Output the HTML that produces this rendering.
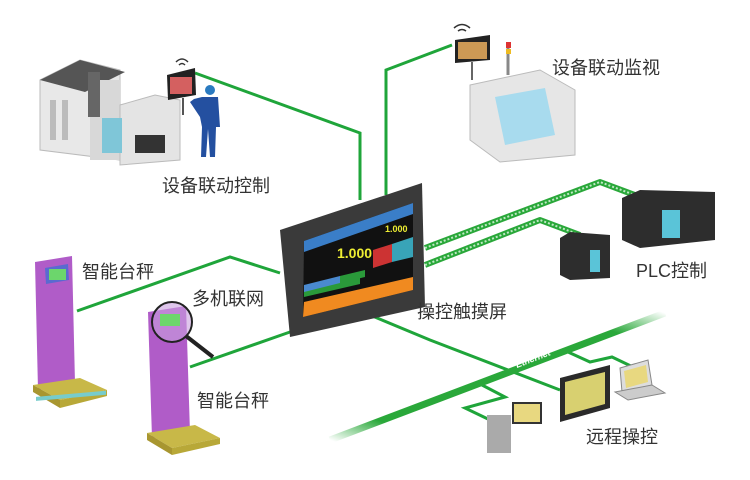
<!DOCTYPE html>
<html><head><meta charset="utf-8"><style>
html,body{margin:0;padding:0;background:#fff;}
svg{display:block}
text{font-family:"Liberation Sans","Noto Sans CJK SC",sans-serif;fill:#333;font-size:18px;}
</style></head><body>
<svg width="750" height="480" viewBox="0 0 750 480" xmlns="http://www.w3.org/2000/svg">
<defs>
<linearGradient id="eth" x1="0" y1="1" x2="1" y2="0">
<stop offset="0" stop-color="#2aa83a" stop-opacity="0"/>
<stop offset="0.15" stop-color="#2aa83a"/>
<stop offset="0.85" stop-color="#2aa83a"/>
<stop offset="1" stop-color="#2aa83a" stop-opacity="0"/>
</linearGradient>
</defs>
<rect width="750" height="480" fill="#fff"/>
<g stroke="#1fa53a" stroke-width="3" fill="none">
<polyline points="195,73 360,133 360,200"/>
<polyline points="386,195 386,70 452,45"/>
<polyline points="77,311 230,257 280,273"/>
<polyline points="190,367 290,332"/>
<polyline points="365,313 430,340 560,390"/>
<polyline points="482,385 505,397 465,408 490,420"/>
<polyline points="568,352 590,362 612,357 635,368"/>
</g>
<g stroke="#2aa83a" stroke-width="6" fill="none" stroke-linejoin="round">
<polyline points="425,248 600,182 640,197"/>
<polyline points="425,265 540,220 580,235"/>
</g>
<g stroke="#bfe8c4" stroke-width="2" stroke-dasharray="2 2" fill="none">
<polyline points="425,248 600,182 640,197"/>
<polyline points="425,265 540,220 580,235"/>
</g>
<line x1="330" y1="440" x2="665" y2="313" stroke="url(#eth)" stroke-width="7"/>
<text x="517" y="368" transform="rotate(-21 517 368)" style="font-size:9px;font-style:italic;fill:#fff;font-weight:bold">Ethernet</text>

<polygon points="40,80 80,60 120,70 120,160 40,150" fill="#e8e8e8" stroke="#bbb"/>
<polygon points="40,80 80,60 125,72 85,92" fill="#555"/>
<rect x="90" y="80" width="30" height="80" fill="#d8d8d8"/>
<rect x="88" y="72" width="12" height="45" fill="#666"/>
<polygon points="120,105 155,95 180,100 180,160 120,165" fill="#e4e4e4" stroke="#bbb"/>
<rect x="102" y="118" width="20" height="35" fill="#7fc6d8"/>
<rect x="135" y="135" width="30" height="18" fill="#333"/>
<rect x="50" y="100" width="6" height="40" fill="#bbb"/><rect x="62" y="100" width="6" height="40" fill="#bbb"/>
<polygon points="167,75 195,68 196,95 168,100" fill="#222"/>
<rect x="170" y="77" width="22" height="17" fill="#d46060"/>
<line x1="183" y1="98" x2="183" y2="115" stroke="#555" stroke-width="2"/>
<path d="M176 62 q6 -6 12 0 M179 65 q3 -3 6 0" stroke="#333" stroke-width="1.5" fill="none"/>
<circle cx="210" cy="90" r="5" fill="#2a7ac0"/>
<path d="M202 97 h16 l2 30 h-4 l-1 30 h-5 l-2 -28 l-2 28 h-5 l1 -30 l-2 -10 l-10 -15 l4 -3 z" fill="#2450a0"/>

<polygon points="470,85 540,70 575,90 575,155 500,162 470,140" fill="#e6e6e6" stroke="#bbb"/>
<polygon points="495,97 545,88 555,135 505,145" fill="#a8dbee"/>
<line x1="508" y1="45" x2="508" y2="75" stroke="#888" stroke-width="3"/>
<rect x="506" y="42" width="5" height="6" fill="#d33"/>
<rect x="506" y="49" width="5" height="5" fill="#eb2"/>
<polygon points="455,40 490,35 490,60 455,63" fill="#222"/>
<rect x="458" y="42" width="29" height="17" fill="#c95"/>
<line x1="472" y1="62" x2="472" y2="80" stroke="#666" stroke-width="2"/>
<path d="M454 28 q8 -7 16 0 M458 31 q4 -3 8 0" stroke="#333" stroke-width="1.5" fill="none"/>

<polygon points="622,198 640,190 715,192 715,240 640,248 622,240" fill="#2d2d2d"/>
<rect x="662" y="210" width="18" height="28" fill="#5ac4d8"/>
<polygon points="560,238 570,232 610,235 610,278 570,280 560,275" fill="#2d2d2d"/>
<rect x="590" y="250" width="10" height="22" fill="#5ac4d8"/>

<polygon points="280,230 422,183 425,307 290,337" fill="#3a3a3a"/>
<polygon points="304,241 413,203 413,290 303,317" fill="#111"/>
<polygon points="304,241 413,203 413,214 304,252" fill="#3a7ec8"/>
<polygon points="304,302 413,277 413,290 303,317" fill="#f08a20"/>
<polygon points="373,250 392,244 392,262 373,268" fill="#c33"/>
<polygon points="392,244 413,237 413,257 392,262" fill="#38a4b8"/>
<polygon points="304,290 360,276 360,284 304,297" fill="#2a9a3a"/>
<polygon points="304,285 340,276 340,283 304,292" fill="#4a8ad0"/>
<polygon points="340,276 365,270 365,277 340,283" fill="#2a9a3a"/>
<text x="337" y="258" style="font-size:14px;fill:#ee3;font-weight:bold">1.000</text>
<text x="385" y="232" style="font-size:9px;fill:#ee3;font-weight:bold">1.000</text>

<polygon points="35,262 72,256 75,383 38,390" fill="#b05cc8"/>
<polygon points="45,268 68,264 69,280 46,284" fill="#5a6ad0"/><rect x="49" y="269" width="17" height="11" fill="#6cd66c"/>
<polygon points="33,385 80,378 107,390 60,400" fill="#c8b848"/>
<polygon points="33,385 60,400 60,408 33,392" fill="#a89630"/>
<polygon points="60,400 107,390 107,396 60,408" fill="#b8a838"/>
<rect x="36" y="400" width="70" height="4" fill="#7cc" transform="skewY(-5)"/>
<polygon points="148,312 186,306 190,433 152,438" fill="#b05cc8"/>
<circle cx="172" cy="322" r="20" fill="#caa0e0" fill-opacity="0.6" stroke="#222" stroke-width="2"/>
<rect x="160" y="314" width="20" height="12" fill="#6cd66c"/>
<line x1="186" y1="336" x2="213" y2="357" stroke="#222" stroke-width="4"/>
<polygon points="147,433 195,425 220,438 172,448" fill="#c8b848"/>
<polygon points="147,433 172,448 172,455 147,440" fill="#a89630"/>
<polygon points="172,448 220,438 220,444 172,455" fill="#b8a838"/>

<rect x="487" y="415" width="24" height="38" fill="#aaa"/>
<rect x="512" y="402" width="30" height="22" fill="#333"/><rect x="514" y="404" width="26" height="18" fill="#e8d880"/>
<polygon points="560,378 610,365 610,408 560,422" fill="#2a2a2a"/>
<polygon points="565,382 605,372 605,404 565,415" fill="#d8d070"/>
<polygon points="620,368 648,360 652,385 622,392" fill="#ddd" stroke="#888"/>
<polygon points="624,371 646,365 648,382 626,388" fill="#e8d880"/>
<polygon points="615,392 652,385 665,393 628,400" fill="#ccc" stroke="#888"/>

<text x="162" y="192">设备联动控制</text>
<text x="552" y="74">设备联动监视</text>
<text x="82" y="278">智能台秤</text>
<text x="192" y="305">多机联网</text>
<text x="417" y="318">操控触摸屏</text>
<text x="197" y="407">智能台秤</text>
<text x="636" y="277">PLC控制</text>
<text x="586" y="443">远程操控</text>
</svg>
</body></html>
